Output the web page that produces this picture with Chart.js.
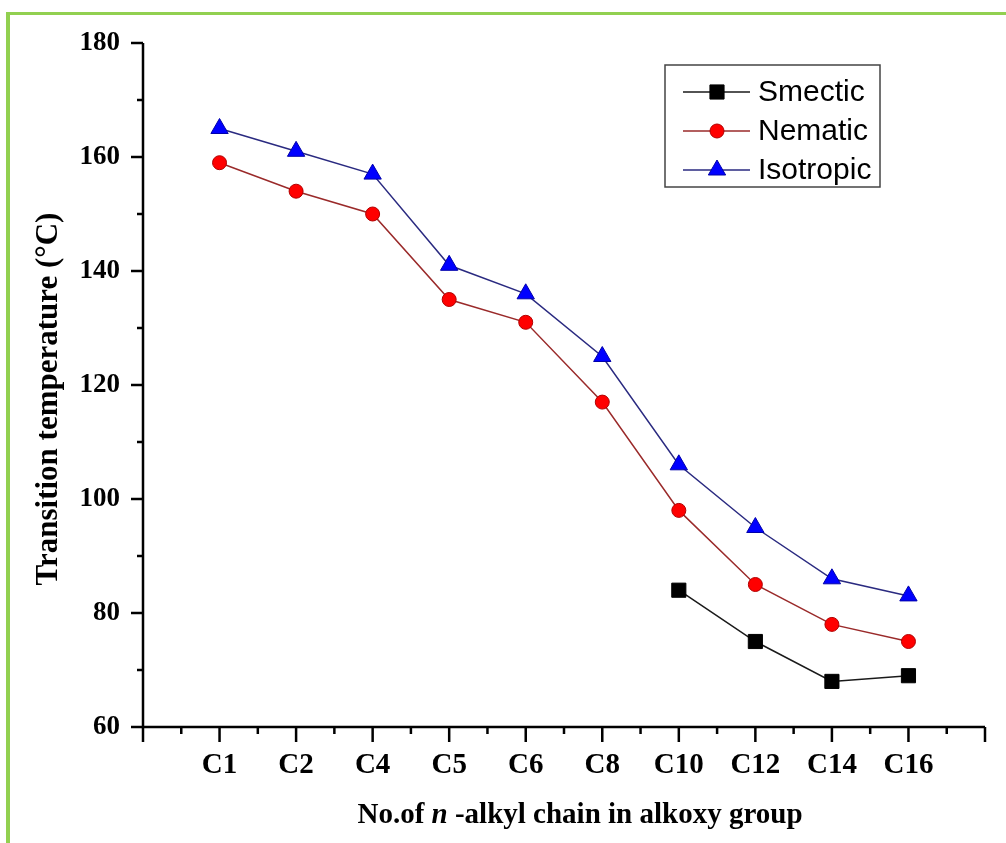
<!DOCTYPE html>
<html>
<head>
<meta charset="utf-8">
<script src="https://cdn.jsdelivr.net/npm/chart.js@4/dist/chart.umd.min.js"></script>
<style>
  html, body { margin: 0; padding: 0; background: #fff; }
  #wrap { position: relative; width: 1006px; height: 843px; overflow: hidden; }
  #frame { position: absolute; left: 6px; top: 12px; width: 1000px; height: 831px;
           border-top: 3px solid #92d050; border-left: 4px solid #92d050; box-sizing: border-box; pointer-events: none; }
  canvas { position: absolute; left: 0; top: 0; }
</style>
</head>
<body>
<div id="wrap">
  <canvas id="c" width="1006" height="843"></canvas>
  <div id="frame"></div>
</div>
<script>
const categories = ['C1', 'C2', 'C4', 'C5', 'C6', 'C8', 'C10', 'C12', 'C14', 'C16'];
const smectic   = [null, null, null, null, null, null, 84, 75, 68, 69];
const nematic   = [159, 154, 150, 135, 131, 117, 98, 85, 78, 75];
const isotropic = [165, 161, 157, 141, 136, 125, 106, 95, 86, 83];
const yTicks = [60, 80, 100, 120, 140, 160, 180];
const seriesNames = ['Smectic', 'Nematic', 'Isotropic'];

// padded category axis: one empty slot on each side
const labels = ['', ...categories, ''];
const pad = arr => [null, ...arr, null];

const SERIF = "'Liberation Serif', 'Times New Roman', serif";
const SANS = "'Liberation Sans', Arial, sans-serif";

const decorPlugin = {
  id: 'decor',
  afterDraw(chart) {
    const ctx = chart.ctx;
    const xs = chart.scales.x, ys = chart.scales.y;
    const ca = chart.chartArea;
    ctx.save();
    ctx.strokeStyle = '#000';
    ctx.lineCap = 'butt';
    // axis lines
    ctx.lineWidth = 2.5;
    ctx.beginPath();
    ctx.moveTo(ca.left, ca.top);
    ctx.lineTo(ca.left, ca.bottom);
    ctx.lineTo(ca.right, ca.bottom);
    ctx.stroke();
    // y ticks
    for (let v = 60; v <= 180; v += 10) {
      const y = ys.getPixelForValue(v);
      const major = yTicks.includes(v);
      ctx.beginPath();
      ctx.moveTo(ca.left, y);
      ctx.lineTo(ca.left - (major ? 12 : 6), y);
      ctx.stroke();
    }
    // x ticks
    for (let i = 0; i < labels.length; i++) {
      const x = xs.getPixelForValue(i);
      ctx.beginPath();
      ctx.moveTo(x, ca.bottom);
      ctx.lineTo(x, ca.bottom + 15);
      ctx.stroke();
      if (i < labels.length - 1) {
        const xm = xs.getPixelForValue(i + 0.5);
        ctx.beginPath();
        ctx.moveTo(xm, ca.bottom);
        ctx.lineTo(xm, ca.bottom + 7);
        ctx.stroke();
      }
    }
    // y title
    ctx.fillStyle = '#000';
    ctx.save();
    ctx.translate(57, 399);
    ctx.rotate(-Math.PI / 2);
    ctx.font = 'bold 31px ' + SERIF;
    ctx.textAlign = 'center';
    ctx.textBaseline = 'alphabetic';
    ctx.fillText('Transition temperature (°C)', 0, 0);
    ctx.restore();
    // x title with italic n
    const parts = [
      { t: 'No.of ', f: 'bold 29px ' + SERIF },
      { t: 'n', f: 'italic bold 29px ' + SERIF },
      { t: ' -alkyl chain in alkoxy group', f: 'bold 29px ' + SERIF }
    ];
    let total = 0;
    parts.forEach(p => { ctx.font = p.f; p.w = ctx.measureText(p.t).width; total += p.w; });
    let x0 = 580 - total / 2;
    ctx.textAlign = 'left';
    ctx.textBaseline = 'alphabetic';
    parts.forEach(p => { ctx.font = p.f; ctx.fillText(p.t, x0, 823); x0 += p.w; });
    // legend
    ctx.strokeStyle = '#444';
    ctx.lineWidth = 1.5;
    ctx.strokeRect(665, 65, 215, 122);
    const rowsY = [92, 131, 170];
    chart.data.datasets.forEach((ds, i) => {
      const y = rowsY[i];
      ctx.strokeStyle = ds.borderColor;
      ctx.lineWidth = ds.borderWidth;
      ctx.beginPath();
      ctx.moveTo(683, y);
      ctx.lineTo(750, y);
      ctx.stroke();
      ctx.fillStyle = ds.pointBackgroundColor;
      ctx.strokeStyle = ds.pointBorderColor;
      ctx.lineWidth = ds.pointBorderWidth;
      Chart.helpers.drawPoint(ctx, { pointStyle: ds.pointStyle, radius: ds.pointRadius, rotation: 0, borderWidth: ds.pointBorderWidth }, 717, y);
      ctx.fillStyle = '#000';
      ctx.font = '30px ' + SANS;
      ctx.textAlign = 'left';
      ctx.textBaseline = 'middle';
      ctx.fillText(ds.label, 758, y + 1);
    });
    ctx.restore();
  }
};

new Chart(document.getElementById('c'), {
  type: 'line',
  data: {
    labels: labels,
    datasets: [
      { label: seriesNames[0], data: pad(smectic), borderColor: '#1a1a1a', borderWidth: 1.5,
        pointStyle: 'rect', pointRadius: 10, pointBackgroundColor: '#000', pointBorderColor: '#000', pointBorderWidth: 1 },
      { label: seriesNames[1], data: pad(nematic), borderColor: '#9a2a2a', borderWidth: 1.5,
        pointStyle: 'circle', pointRadius: 7, pointBackgroundColor: '#ff0000', pointBorderColor: '#b00000', pointBorderWidth: 1 },
      { label: seriesNames[2], data: pad(isotropic), borderColor: '#2a2a80', borderWidth: 1.5,
        pointStyle: 'triangle', pointRadius: 10, pointBackgroundColor: '#0000ff', pointBorderColor: '#0000aa', pointBorderWidth: 1 }
    ]
  },
  options: {
    responsive: false,
    animation: false,
    devicePixelRatio: 1,
    layout: { padding: { left: 0, top: 43, right: 18, bottom: 0 } },
    plugins: { legend: { display: false }, tooltip: { enabled: false } },
    elements: { line: { tension: 0 } },
    scales: {
      x: {
        type: 'category',
        offset: false,
        grid: { display: true, drawOnChartArea: false, drawTicks: false, color: 'rgba(0,0,0,0)' },
        border: { display: false },
        ticks: { autoSkip: false, maxRotation: 0, padding: 21, color: '#000',
                 font: { family: SERIF, size: 29, weight: 'bold' } },
        afterFit(s) { s.height = 116; }
      },
      y: {
        min: 60, max: 180,
        grid: { display: true, drawOnChartArea: false, drawTicks: false, color: 'rgba(0,0,0,0)' },
        border: { display: false },
        ticks: { stepSize: 10, padding: 23, color: '#000',
                 font: { family: SERIF, size: 27, weight: 'bold' },
                 callback: v => (yTicks.includes(v) ? String(v) : '') },
        afterFit(s) { s.width = 143; }
      }
    }
  },
  plugins: [decorPlugin]
});
</script>
</body>
</html>
